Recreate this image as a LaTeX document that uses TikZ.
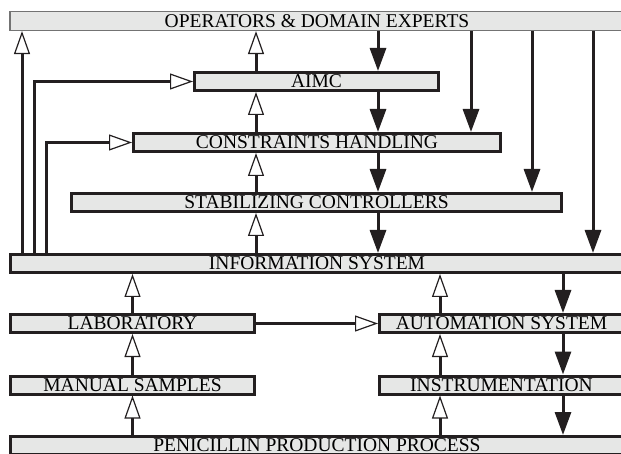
\documentclass[tikz,border=0pt]{standalone}
\usepackage{fontspec}
\setmainfont{Liberation Serif}
\usetikzlibrary{arrows.meta}
\definecolor{boxgray}{RGB}{230,231,230}
\definecolor{ink}{RGB}{35,31,32}
\tikzset{
  block/.style={draw=ink, fill=boxgray, line width=3pt, inner sep=0pt,
    minimum height=18pt, font=\fontsize{19.5}{22}\selectfont},
  uparrow/.style={draw=ink, line width=3pt,
    -{Triangle[open, length=23pt, width=16pt, line width=1.2pt, fill=white]}},
  downarrow/.style={draw=ink, line width=3pt, -{Triangle[length=23pt, width=16pt]}},
}
\begin{document}
\begin{tikzpicture}[x=1pt, y=-1pt]
\useasboundingbox (0,0) rectangle (621,454);
\clip (0,0) rectangle (621,454);

\node[block, draw=black!55, line width=1.2pt, minimum width=614pt, minimum height=19pt] (ops) at (317,21) {OPERATORS \& DOMAIN EXPERTS};
\node[block, minimum width=244pt] (aimc) at (316.5,81.5) {AIMC};
\node[block, minimum width=367pt] (con) at (317,142.5) {CONSTRAINTS HANDLING};
\node[block, minimum width=490pt] (stab) at (316.5,202.5) {STABILIZING CONTROLLERS};
\node[block, minimum width=613pt] (info) at (317,263.5) {INFORMATION SYSTEM};
\node[block, minimum width=244pt] (lab) at (132.5,323.5) {LABORATORY};
\node[block, minimum width=244pt] (auto) at (501.5,323.5) {AUTOMATION SYSTEM};
\node[block, minimum width=244pt] (man) at (132.5,385) {MANUAL SAMPLES};
\node[block, minimum width=244pt] (instr) at (501.5,385) {INSTRUMENTATION};
\node[block, minimum width=613pt] (pen) at (317,445.5) {PENICILLIN PRODUCTION PROCESS};

% columns of the connectors
\coordinate (c1) at (22,0);
\coordinate (c2) at (34,0);
\coordinate (c3) at (46,0);
\coordinate (cA) at (256,0);
\coordinate (cB) at (378,0);
\coordinate (cC) at (471,0);
\coordinate (cD) at (532,0);
\coordinate (cE) at (593,0);
\coordinate (cR) at (440,0);
\coordinate (cS) at (563,0);

% feedback from the information system
\draw[uparrow] (info.north -| c1) -- (ops.south -| c1);
\draw[uparrow] (info.north -| c2) |- (aimc.west);
\draw[uparrow] (info.north -| c3) |- (con.west);

\draw[uparrow] (aimc.north -| cA) -- (ops.south -| cA);
\draw[uparrow] (con.north -| cA) -- (aimc.south -| cA);
\draw[uparrow] (stab.north -| cA) -- (con.south -| cA);
\draw[uparrow] (info.north -| cA) -- (stab.south -| cA);

% commands downwards
\draw[downarrow] (ops.south -| cB) -- (aimc.north -| cB);
\draw[downarrow] (aimc.south -| cB) -- (con.north -| cB);
\draw[downarrow] (con.south -| cB) -- (stab.north -| cB);
\draw[downarrow] (stab.south -| cB) -- (info.north -| cB);
\draw[downarrow] (ops.south -| cC) -- (con.north -| cC);
\draw[downarrow] (ops.south -| cD) -- (stab.north -| cD);
\draw[downarrow] (ops.south -| cE) -- (info.north -| cE);

\draw[downarrow] (info.south -| cS) -- (auto.north -| cS);
\draw[downarrow] (auto.south -| cS) -- (instr.north -| cS);
\draw[downarrow] (instr.south -| cS) -- (pen.north -| cS);

% measurements upwards
\draw[uparrow] (lab.north) -- (info.south -| lab.north);
\draw[uparrow] (man.north) -- (lab.south);
\draw[uparrow] (pen.north -| man.north) -- (man.south);
\draw[uparrow] (auto.north -| cR) -- (info.south -| cR);
\draw[uparrow] (instr.north -| cR) -- (auto.south -| cR);
\draw[uparrow] (pen.north -| cR) -- (instr.south -| cR);
\draw[uparrow] (lab) -- (auto);
\end{tikzpicture}
\end{document}
